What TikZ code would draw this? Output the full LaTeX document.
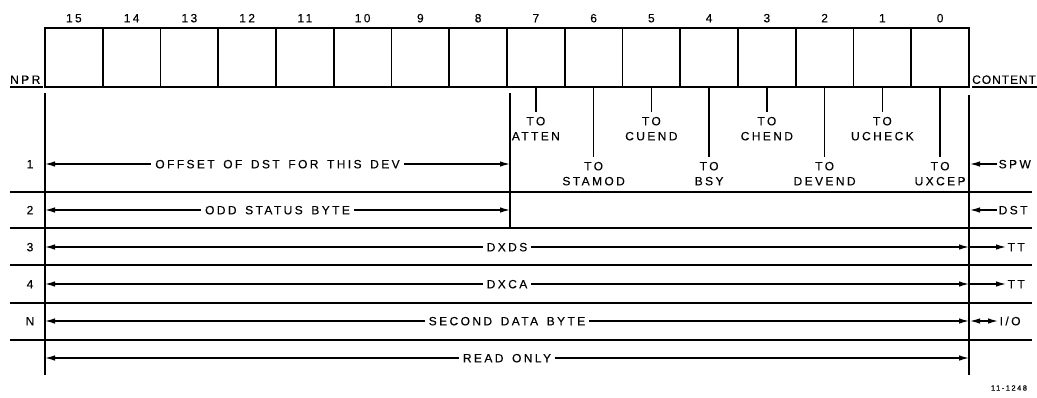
\documentclass[tikz,border=0pt]{standalone}
\usepackage{fontspec}
\setmainfont{Liberation Sans}
\newfontfamily\lblfont[LetterSpace=20,WordSpace=1.5,FakeBold=0.25]{Liberation Sans}
\newfontfamily\narfont[LetterSpace=8,FakeBold=0.25]{Liberation Sans}
\usetikzlibrary{arrows.meta}
\begin{document}
\begin{tikzpicture}[x=1pt,y=-1pt,
  txt/.style={font=\lblfont\fontsize{12}{14}\selectfont, inner sep=0pt, text height=8.6pt, text depth=0pt},
  cell/.style={draw, line width=1.6pt, minimum width=57.75pt, minimum height=59pt, inner sep=0pt, anchor=center},
  rule/.style={line width=1.4pt},
  tip/.style={-{Latex[length=10pt,width=5.5pt]}, line width=1.2pt},
  tips/.style={{Latex[length=10pt,width=5.5pt]}-{Latex[length=10pt,width=5.5pt]}, line width=1.2pt},
  lab/.style={txt, fill=white, inner xsep=4pt, inner ysep=1pt},
  tolbl/.style={txt, inner ysep=5pt},
  side/.style={txt, anchor=west, inner xsep=1.5pt}]
\useasboundingbox (0,0) rectangle (1037,397);

% register cells and bit numbers
\foreach \b in {0,...,15} {
  \node[cell] (c\b) at ({45+(15-\b+0.5)*57.75}, 57.5) {};
  \node[txt] (n\b) at ({45+(15-\b+0.5)*57.75}, 18) {\b};
}

% header labels
\node[txt, anchor=south west] (npr) at (10,84) {NPR};
\coordinate (nprl) at (10,87); \coordinate (nprr) at (43,87);
\draw[rule] (nprl) -- (nprr);
\node[txt, font=\narfont\fontsize{12}{14}\selectfont, anchor=south west] (cont) at (972,84) {CONTENT};
\coordinate (contl) at (972,87); \coordinate (contr) at (1037,87);
\draw[rule] (contl) -- (contr);

% bit destination labels
\foreach \b/\nm in {7/ATTEN,5/CUEND,3/CHEND,1/UCHECK} {
  \node[tolbl] (to\b) at ({45+(15-\b+0.5)*57.75},121) {TO};
  \node[txt] (nm\b) at ({45+(15-\b+0.5)*57.75},136) {\nm};
  \draw[rule] (c\b.south) -- (to\b.north);
}
\foreach \b/\nm in {6/STAMOD,4/BSY,2/DEVEND,0/UXCEP} {
  \node[tolbl] (to\b) at ({45+(15-\b+0.5)*57.75},166) {TO};
  \node[txt] (nm\b) at ({45+(15-\b+0.5)*57.75},181) {\nm};
  \draw[rule] (c\b.south) -- (to\b.north);
}

% row separators
\foreach \y in {192,228,265,303,340} {
  \draw[rule] (10,\y) -- (1032,\y);
}

% vertical boundaries
\coordinate (vlt) at (45,93);  \coordinate (vlb) at (45,375);
\coordinate (vrt) at (969,95); \coordinate (vrb) at (969,375);
\coordinate (vmt) at (510,93); \coordinate (vmb) at (510,227);
\draw[rule] (vlt) -- (vlb);
\draw[rule] (vrt) -- (vrb);
\draw[rule] (vmt) -- (vmb);

% row numbers
\node[txt] (r1) at (30,164) {1};
\node[txt] (r2) at (30,210) {2};
\node[txt] (r3) at (30,247) {3};
\node[txt] (r4) at (30,284) {4};
\node[txt] (rn) at (30,321) {N};

% field arrows
\coordinate (a1l) at (45,164);  \coordinate (a1r) at (510,164);
\coordinate (a2l) at (45,210);  \coordinate (a2r) at (510,210);
\coordinate (a3l) at (45,247);  \coordinate (a3r) at (969,247);
\coordinate (a4l) at (45,284);  \coordinate (a4r) at (969,284);
\coordinate (a5l) at (45,321);  \coordinate (a5r) at (969,321);
\coordinate (a6l) at (45,358);  \coordinate (a6r) at (969,358);
\draw[tips] (a1l) -- (a1r) node[lab, midway] (f1) {OFFSET OF DST FOR THIS DEV};
\draw[tips] (a2l) -- (a2r) node[lab, midway] (f2) {ODD STATUS BYTE};
\draw[tips] (a3l) -- (a3r) node[lab, midway] (f3) {DXDS};
\draw[tips] (a4l) -- (a4r) node[lab, midway] (f4) {DXCA};
\draw[tips] (a5l) -- (a5r) node[lab, midway] (f5) {SECOND DATA BYTE};
\draw[tips] (a6l) -- (a6r) node[lab, midway] (f6) {READ ONLY};

% content arrows
\node[side] (spw) at (997,164) {SPW};
\node[side] (dst) at (997,210) {DST};
\node[side] (tt3) at (1006,247) {TT};
\node[side] (tt4) at (1006,284) {TT};
\node[side] (io)  at (998,321) {I/O};
\coordinate (s1) at (970,164); \coordinate (s2) at (970,210);
\coordinate (s3) at (969,247); \coordinate (s4) at (969,284);
\coordinate (s5) at (970,321);
\draw[tip] (spw.west) -- (s1);
\draw[tip] (dst.west) -- (s2);
\draw[tip] (s3) -- (tt3.west);
\draw[tip] (s4) -- (tt4.west);
\draw[tips] (s5) -- (io.west);

% figure number
\node[font=\lblfont\fontsize{7.5}{9}\selectfont, inner sep=0pt] (fig) at (1009,388) {11-1248};
\end{tikzpicture}
\end{document}
